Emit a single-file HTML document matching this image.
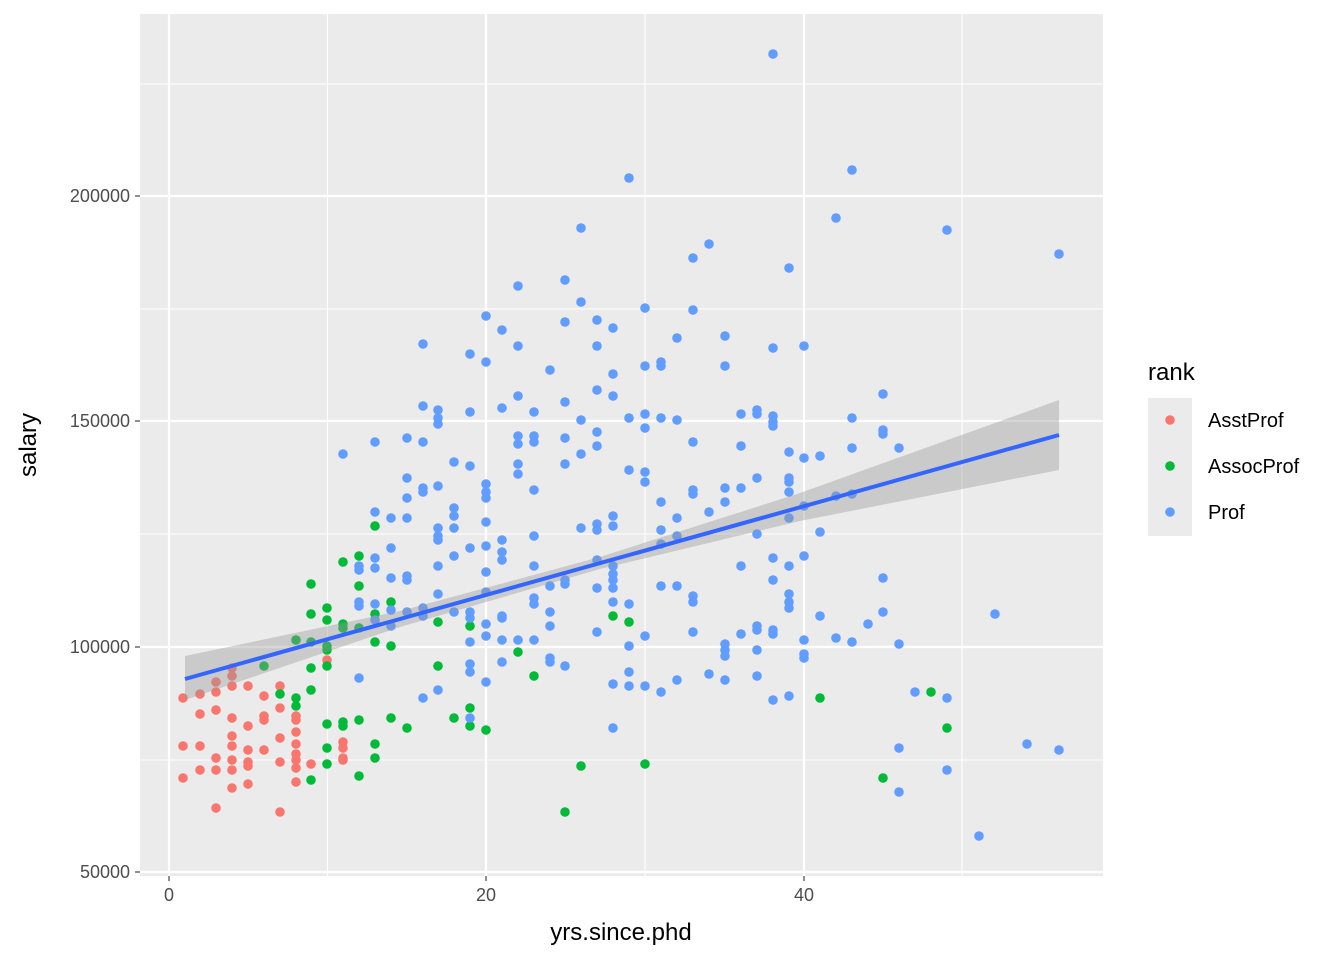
<!DOCTYPE html>
<html><head><meta charset="utf-8"><style>
html,body{margin:0;padding:0;background:#fff;}
svg{display:block;font-family:"Liberation Sans",Arial,sans-serif;}
</style></head><body>
<svg id="s" width="1344" height="960" viewBox="0 0 1344 960" xmlns="http://www.w3.org/2000/svg">
<rect x="140" y="14" width="963" height="862" fill="#ebebeb"/>
<g stroke="#fff" stroke-width="1.1">
<line x1="140" x2="1103" y1="84" y2="84"/><line x1="140" x2="1103" y1="309" y2="309"/>
<line x1="140" x2="1103" y1="534" y2="534"/><line x1="140" x2="1103" y1="760" y2="760"/>
<line y1="14" y2="876" x1="327.5" x2="327.5"/><line y1="14" y2="876" x1="645" x2="645"/><line y1="14" y2="876" x1="962" x2="962"/>
</g>
<g stroke="#fff" stroke-width="2.2">
<line x1="140" x2="1103" y1="196" y2="196"/><line x1="140" x2="1103" y1="421" y2="421"/>
<line x1="140" x2="1103" y1="647" y2="647"/><line x1="140" x2="1103" y1="872" y2="872"/>
<line y1="14" y2="876" x1="169" x2="169"/><line y1="14" y2="876" x1="486" x2="486"/><line y1="14" y2="876" x1="804" x2="804"/>
</g>
<g id="pts"></g>
<polygon points="185,656 400,611 600,557 800,493 1059,400 1059,470 800,521 600,569 400,627 185,700" fill="#999" fill-opacity="0.4"/>
<line x1="185" y1="679" x2="1059" y2="435" stroke="#3366ff" stroke-width="4"/>
<g stroke="#333" stroke-width="1.1">
<line x1="135" x2="140" y1="196" y2="196"/><line x1="135" x2="140" y1="421" y2="421"/>
<line x1="135" x2="140" y1="647" y2="647"/><line x1="135" x2="140" y1="872" y2="872"/>
<line y1="876" y2="881" x1="169" x2="169"/><line y1="876" y2="881" x1="486" x2="486"/><line y1="876" y2="881" x1="804" x2="804"/>
</g>
<g fill="#4d4d4d" font-size="18" text-anchor="end">
<text x="130" y="202">200000</text><text x="130" y="427">150000</text>
<text x="130" y="653">100000</text><text x="130" y="878">50000</text>
</g>
<g fill="#4d4d4d" font-size="18" text-anchor="middle">
<text x="169" y="901">0</text><text x="486" y="901">20</text><text x="804" y="901">40</text>
</g>
<text x="621" y="940" font-size="24" text-anchor="middle" fill="#000">yrs.since.phd</text>
<text transform="translate(36,445) rotate(-90)" font-size="24" text-anchor="middle" fill="#000">salary</text>
<text x="1148" y="380" font-size="24" fill="#000">rank</text>
<rect x="1148" y="398" width="44" height="138" fill="#ebebeb"/>
<circle cx="1170" cy="420" r="4.8" fill="#f8766d"/>
<circle cx="1170" cy="466" r="4.8" fill="#00ba38"/>
<circle cx="1170" cy="512" r="4.8" fill="#619cff"/>
<g font-size="20" fill="#000">
<text x="1208" y="427">AsstProf</text><text x="1208" y="473">AssocProf</text><text x="1208" y="519">Prof</text>
</g>
</svg>
<script>
var R=[183,698,183,746,183,778,200,694,200,714,200,746,200,770,216,682,216,692,216,710,216,758,216,770,216,808,232,668,232,676,232,686,232,718,232,736,232,746,232,760,232,770,232,788,248,686,248,726,248,750,248,762,248,766,248,784,264,696,264,716,264,720,264,750,280,686,280,708,280,738,280,762,280,812,296,716,296,720,296,732,296,744,296,754,296,760,296,768,296,782,311,764,327,660,343,742,343,748,343,758,343,760];
var G=[264,666,280,694,296,698,296,706,296,640,311,584,311,614,311,642,311,668,311,690,311,780,327,608,327,620,327,646,327,650,327,666,327,724,327,748,327,764,343,562,343,624,343,628,343,722,343,726,359,556,359,586,359,628,359,720,359,776,375,526,375,614,375,642,375,744,375,758,391,602,391,646,391,718,407,728,438,622,438,666,454,718,470,626,470,708,470,726,486,730,518,652,534,676,565,812,581,766,613,616,629,622,645,764,820,698,883,778,931,692,947,728];
var B=[343,454,359,566,359,570,359,602,359,606,359,678,375,442,375,512,375,558,375,568,375,604,375,620,391,518,391,548,391,578,391,610,391,626,407,438,407,478,407,498,407,518,407,576,407,580,407,612,423,344,423,406,423,442,423,488,423,492,423,608,423,616,423,698,438,410,438,418,438,424,438,486,438,528,438,536,438,540,438,566,438,594,438,690,454,462,454,508,454,516,454,528,454,556,454,612,470,354,470,412,470,466,470,548,470,612,470,618,470,642,470,664,470,672,470,718,486,316,486,362,486,484,486,492,486,498,486,522,486,546,486,572,486,592,486,624,486,636,486,682,502,330,502,408,502,540,502,552,502,560,502,616,502,618,502,640,502,662,518,286,518,346,518,396,518,436,518,444,518,464,518,474,518,640,534,412,534,436,534,442,534,490,534,536,534,566,534,598,534,604,534,640,550,370,550,586,550,612,550,626,550,658,550,662,565,280,565,322,565,402,565,438,565,464,565,580,565,584,565,666,581,228,581,302,581,420,581,454,581,528,597,320,597,346,597,390,597,432,597,446,597,524,597,530,597,560,597,588,597,632,613,328,613,374,613,396,613,516,613,526,613,566,613,574,613,580,613,588,613,602,613,684,613,728,629,178,629,418,629,470,629,604,629,646,629,672,629,686,645,308,645,366,645,414,645,428,645,472,645,482,645,636,645,686,661,362,661,366,661,418,661,502,661,530,661,544,661,586,661,692,677,338,677,420,677,518,677,536,677,586,677,680,693,258,693,310,693,442,693,490,693,494,693,596,693,602,693,632,709,244,709,512,709,674,725,336,725,366,725,488,725,502,725,644,725,650,725,656,725,680,741,414,741,446,741,488,741,566,741,634,757,410,757,414,757,478,757,534,757,626,757,630,757,650,757,676,773,54,773,348,773,416,773,422,773,426,773,558,773,580,773,630,773,634,773,700,789,268,789,452,789,478,789,482,789,492,789,518,789,566,789,594,789,602,789,608,789,696,804,346,804,458,804,506,804,556,804,640,804,654,804,658,820,456,820,532,820,616,836,218,836,496,836,638,852,170,852,418,852,448,852,494,852,642,868,624,883,394,883,430,883,434,883,578,883,612,899,448,899,644,899,748,899,792,915,692,947,230,947,698,947,770,979,836,995,614,1027,744,1059,254,1059,750];
var g=document.getElementById('pts'),h='';
function add(a,c){for(var i=0;i<a.length;i+=2)h+='<circle cx="'+a[i]+'" cy="'+a[i+1]+'" r="4.8" fill="'+c+'"/>';}
add(R,'#f8766d');add(G,'#00ba38');add(B,'#619cff');
g.innerHTML=h;
</script>
</body></html>
